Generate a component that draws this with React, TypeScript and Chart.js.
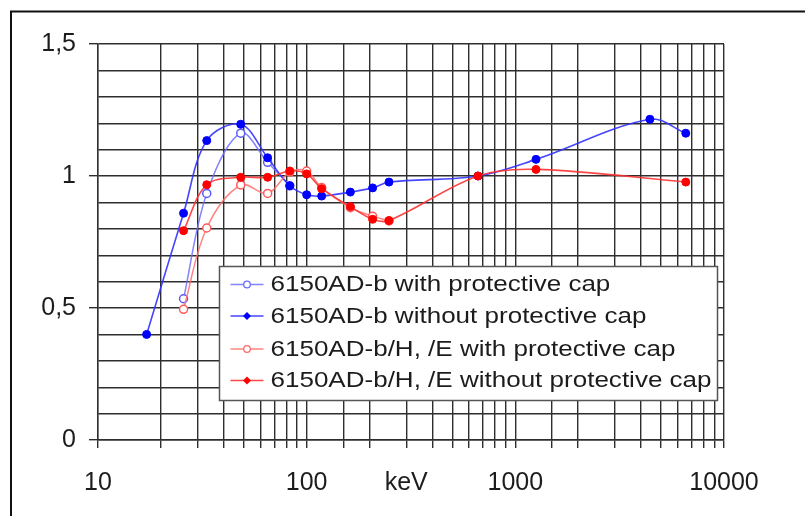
import { useEffect, useRef } from 'react';
import { Chart, registerables } from 'chart.js';

Chart.register(...registerables);

// Photon energy (keV) and relative response
const blueCapEnergy = [25.7, 33.2, 48.3, 65, 83];
const blueCapValue = [0.535, 0.934, 1.162, 1.052, 0.963];

const blueNoCapEnergy = [17.1, 25.7, 33.2, 48.3, 65, 83, 100, 118, 162, 207, 248, 662, 1256, 4415, 6560];
const blueNoCapValue = [0.4, 0.859, 1.134, 1.196, 1.069, 0.963, 0.929, 0.924, 0.939, 0.955, 0.977, 1.0, 1.063, 1.215, 1.162];

const redCapEnergy = [25.7, 33.2, 48.3, 65, 83, 100, 118, 162, 207, 248];
const redCapValue = [0.495, 0.803, 0.966, 0.934, 1.015, 1.019, 0.956, 0.88, 0.848, 0.83];

const redNoCapEnergy = [25.7, 33.2, 48.3, 65, 83, 100, 118, 162, 207, 248, 662, 1256, 6560];
const redNoCapValue = [0.793, 0.967, 0.995, 0.995, 1.019, 1.008, 0.952, 0.884, 0.836, 0.831, 1.0, 1.025, 0.977];

const seriesLabels = [
  '6150AD-b with protective cap',
  '6150AD-b without protective cap',
  '6150AD-b/H, /E with protective cap',
  '6150AD-b/H, /E without protective cap',
];

const xTickLabels: [number, string][] = [
  [10, '10'],
  [100, '100'],
  [300, 'keV'],
  [1000, '1000'],
  [10000, '10000'],
];

const yMajorTicks: [number, string][] = [
  [0, '0'],
  [0.5, '0,5'],
  [1, '1'],
  [1.5, '1,5'],
];

const toPoints = (xs: number[], ys: number[]) => xs.map((x, i) => ({ x, y: ys[i] }));

const GRID = '#2e2e2e';
const TEXT = '#1c1c1c';

const legendStyles = [
  { line: 'rgba(110,110,255,0.85)', fill: '#ffffff', stroke: '#6a6aff', open: true },
  { line: 'rgba(50,50,255,0.9)', fill: '#0000ff', stroke: '#0000ff', open: false },
  { line: 'rgba(255,110,110,0.85)', fill: '#ffffff', stroke: '#ff6a6a', open: true },
  { line: 'rgba(255,50,50,0.9)', fill: '#ff0000', stroke: '#ff0000', open: false },
];

const framePlugin = {
  id: 'frame',
  beforeDraw(chart: any) {
    const ctx = chart.ctx;
    ctx.save();
    ctx.fillStyle = '#ffffff';
    ctx.fillRect(0, 0, chart.width, chart.height);
    ctx.strokeStyle = '#111';
    ctx.lineWidth = 2;
    ctx.beginPath();
    ctx.moveTo(11, chart.height);
    ctx.lineTo(11, 11.5);
    ctx.lineTo(chart.width, 11.5);
    ctx.stroke();
    ctx.restore();
  },
};

const legendPlugin = {
  id: 'innerLegend',
  afterDraw(chart: any) {
    const ctx = chart.ctx;
    const a = chart.chartArea;
    const left = a.left + 121.5;
    const top = a.top + 222.5;
    const w = 498;
    const h = 134;
    ctx.save();
    ctx.fillStyle = '#ffffff';
    ctx.fillRect(left, top, w, h);
    ctx.strokeStyle = '#555';
    ctx.lineWidth = 1.5;
    ctx.strokeRect(left, top, w, h);
    const rows = [18, 49.5, 82.5, 114];
    seriesLabels.forEach((label, i) => {
      const y = top + rows[i];
      const st = legendStyles[i];
      ctx.strokeStyle = st.line;
      ctx.lineWidth = 1.5;
      ctx.beginPath();
      ctx.moveTo(left + 11, y);
      ctx.lineTo(left + 44, y);
      ctx.stroke();
      ctx.beginPath();
      if (st.open) {
        ctx.arc(left + 27.5, y, 3.3, 0, Math.PI * 2);
        ctx.fillStyle = st.fill;
        ctx.fill();
        ctx.strokeStyle = st.stroke;
        ctx.lineWidth = 1.3;
        ctx.stroke();
      } else {
        ctx.moveTo(left + 27.5, y - 4);
        ctx.lineTo(left + 31.5, y);
        ctx.lineTo(left + 27.5, y + 4);
        ctx.lineTo(left + 23.5, y);
        ctx.closePath();
        ctx.fillStyle = st.fill;
        ctx.fill();
      }
      ctx.save();
      ctx.translate(left + 51, y + 1);
      ctx.scale(1.21, 1);
      ctx.fillStyle = TEXT;
      ctx.font = '21.5px "Liberation Sans", Arial, sans-serif';
      ctx.textBaseline = 'middle';
      ctx.textAlign = 'left';
      ctx.fillText(label, 0, 0);
      ctx.restore();
    });
    ctx.restore();
  },
};

export default function App() {
  const ref = useRef<HTMLCanvasElement>(null);

  useEffect(() => {
    if (!ref.current) return;
    const chart = new Chart(ref.current, {
      type: 'line',
      data: {
        datasets: [
          {
            label: seriesLabels[3],
            data: toPoints(redNoCapEnergy, redNoCapValue),
            borderColor: legendStyles[3].line,
            backgroundColor: '#ff0000',
            pointBackgroundColor: '#ff0000',
            pointBorderColor: '#ff0000',
            pointRadius: 4,
            pointBorderWidth: 1,
            borderWidth: 1.6,
            tension: 0.35,
            order: 0,
          },
          {
            label: seriesLabels[2],
            data: toPoints(redCapEnergy, redCapValue),
            borderColor: legendStyles[2].line,
            backgroundColor: '#ffffff',
            pointBackgroundColor: '#ffffff',
            pointBorderColor: '#ff5a5a',
            pointRadius: 4,
            pointBorderWidth: 1.5,
            borderWidth: 1.5,
            tension: 0.35,
            order: 1,
          },
          {
            label: seriesLabels[1],
            data: toPoints(blueNoCapEnergy, blueNoCapValue),
            borderColor: legendStyles[1].line,
            backgroundColor: '#0000ff',
            pointBackgroundColor: '#0000ff',
            pointBorderColor: '#0000ff',
            pointRadius: 4,
            pointBorderWidth: 1,
            borderWidth: 1.6,
            tension: 0.35,
            order: 2,
          },
          {
            label: seriesLabels[0],
            data: toPoints(blueCapEnergy, blueCapValue),
            borderColor: legendStyles[0].line,
            backgroundColor: '#ffffff',
            pointBackgroundColor: '#ffffff',
            pointBorderColor: '#5a5aff',
            pointRadius: 4,
            pointBorderWidth: 1.5,
            borderWidth: 1.5,
            tension: 0.35,
            order: 3,
          },
        ],
      },
      options: {
        responsive: false,
        animation: false,
        devicePixelRatio: 1,
        layout: { padding: { left: 8, right: 81, top: 44, bottom: 0 } },
        plugins: {
          legend: { display: false },
          tooltip: { enabled: false },
        },
        scales: {
          x: {
            type: 'logarithmic',
            min: 10,
            max: 10000,
            afterFit: (s: any) => {
              s.height = 76;
            },
            border: { color: GRID, width: 1.4 },
            grid: {
              color: GRID,
              lineWidth: 1.4,
              tickLength: 8,
              tickColor: GRID,
            },
            ticks: {
              autoSkip: false,
              maxRotation: 0,
              minRotation: 0,
              padding: 20,
              color: TEXT,
              font: { family: '"Liberation Sans", Arial, sans-serif', size: 25 },
              callback: (v: any) => {
                const n = Number(v);
                const hit = xTickLabels.find(([t]) => Math.abs(n - t) < 1e-6 * t);
                return hit ? hit[1] : '';
              },
            },
          },
          y: {
            type: 'linear',
            min: 0,
            max: 1.5,
            afterFit: (s: any) => {
              s.width = 90;
            },
            border: { color: GRID, width: 1.4 },
            grid: {
              color: GRID,
              lineWidth: 1.4,
              tickLength: 9,
              tickColor: (c: any) => {
                const v = c.tick ? c.tick.value : NaN;
                return yMajorTicks.some(([t]) => Math.abs(v - t) < 1e-6) ? GRID : 'rgba(0,0,0,0)';
              },
            },
            ticks: {
              stepSize: 0.1,
              maxTicksLimit: 30,
              autoSkip: false,
              padding: 13,
              color: TEXT,
              font: { family: '"Liberation Sans", Arial, sans-serif', size: 25 },
              callback: (v: any) => {
                const n = Number(v);
                const hit = yMajorTicks.find(([t]) => Math.abs(n - t) < 1e-6);
                return hit ? hit[1] : '';
              },
            },
          },
        },
      },
      plugins: [framePlugin, legendPlugin],
    } as any);
    return () => chart.destroy();
  }, []);

  return (
    <div style={{ position: 'fixed', left: 0, top: 0, width: 805, height: 516, background: '#fff' }}>
      <canvas ref={ref} width={805} height={516} style={{ display: 'block', width: 805, height: 516 }} />
    </div>
  );
}
